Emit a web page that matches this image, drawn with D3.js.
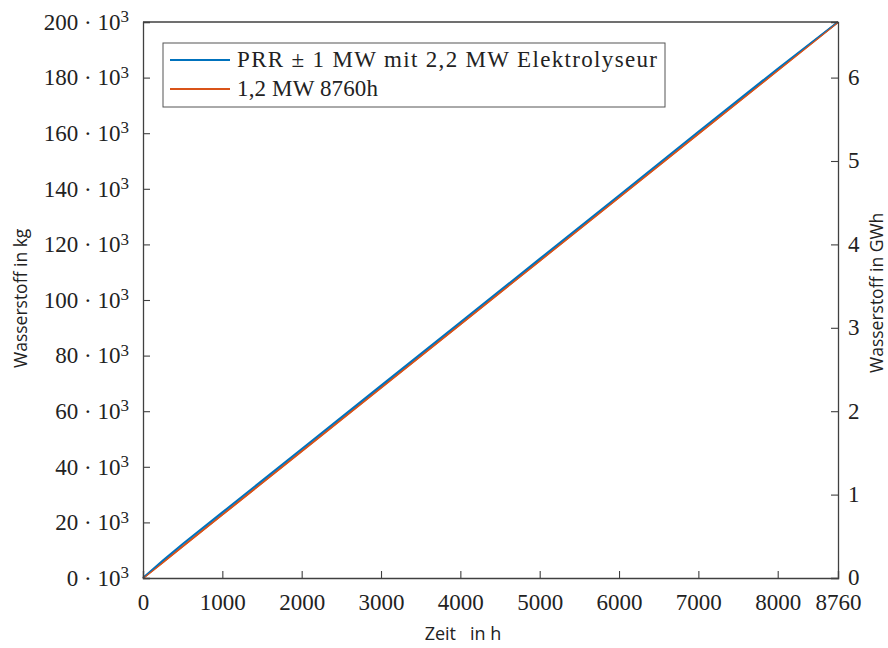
<!DOCTYPE html>
<html><head><meta charset="utf-8">
<script src="https://cdn.jsdelivr.net/npm/d3@7"></script>
<style>body{margin:0;background:#fff}</style>
</head><body>
<svg id="c" width="888" height="648"></svg>
<script>
const hours = [0,250,500,1000,2000,3000,4000,5000,6000,7000,8000,8760];
const seriesPRR = [0,6300,12200,23600,46400,69200,92000,114800,137600,160500,183200,200000];
const series12 = [0,5708,11416,22831,45662,68493,91324,114155,136986,159817,182648,200000];
const seriesNames = ["PRR \u00b1 1 MW mit 2,2 MW Elektrolyseur","1,2 MW 8760h"];
const xTicks = [0,1000,2000,3000,4000,5000,6000,7000,8000,8760];
const yTicks = [0,20,40,60,80,100,120,140,160,180,200];
const y2Ticks = [0,1,2,3,4,5,6];
const kWhPerKg = 33.333;

const svg = d3.select("#c");
const L=143,R=838,T=22,B=578;
const x = d3.scaleLinear().domain([0,8760]).range([L,R]);
const y = d3.scaleLinear().domain([0,200000]).range([B,T]);
const y2 = d3.scaleLinear().domain([0,200000*kWhPerKg/1e6]).range([B,T]);
const axisColor="#404040";
const serif="'Liberation Serif','DejaVu Serif',serif";
const sans="'Open Sans','Noto Sans',sans-serif";

// lines
const line = d3.line().x((d,i)=>x(hours[i])).y(d=>y(d));
svg.append("path").datum(series12).attr("d",line).attr("fill","none").attr("stroke","#D95319").attr("stroke-width",2);
svg.append("path").datum(seriesPRR).attr("d",line).attr("fill","none").attr("stroke","#0072BD").attr("stroke-width",2);
svg.append("path").datum(series12).attr("d",line).attr("fill","none").attr("stroke","#D95319").attr("stroke-width",1.2).attr("transform","translate(0,0.6)");

// axes
const gx = svg.append("g").attr("transform",`translate(0,${B})`)
  .call(d3.axisBottom(x).tickValues(xTicks).tickSize(-7).tickPadding(15).tickFormat(d3.format("d")));
const gy = svg.append("g").attr("transform",`translate(${L},0)`)
  .call(d3.axisLeft(y).tickValues(yTicks.map(v=>v*1000)).tickSize(-7).tickPadding(14).tickFormat(""));
const gy2 = svg.append("g").attr("transform",`translate(${R},0)`)
  .call(d3.axisRight(y2).tickValues(y2Ticks).tickSize(-7).tickPadding(10).tickFormat(d3.format("d")));
[gx,gy,gy2].forEach(g=>{
  g.select(".domain").attr("stroke",axisColor).attr("stroke-width",1.3);
  g.selectAll(".tick line").attr("stroke",axisColor).attr("stroke-width",1.1);
  g.selectAll("text").attr("fill","#222").style("font-family",serif).style("font-size","23px");
});
gx.selectAll(".tick text").attr("dy","0.75em");
gy2.selectAll(".tick text").attr("dy","0.3em");
// left tick labels with superscript
gy.selectAll(".tick").each(function(d){
  const t = d3.select(this).append("text").attr("x",-14).attr("dy","0.32em").attr("text-anchor","end")
    .attr("fill","#222").style("font-family",serif).style("font-size","23px");
  t.append("tspan").text((d/1000)+" \u00b7 10");
  t.append("tspan").attr("dy","-0.45em").style("font-size","17px").text("3");
});
// top border
svg.append("line").attr("x1",L).attr("x2",R).attr("y1",T).attr("y2",T).attr("stroke",axisColor).attr("stroke-width",1.3);

// axis labels
svg.append("text").attr("transform",`translate(27,368) rotate(-90)`).attr("text-anchor","start")
  .style("font-family",sans).style("font-size","17.5px").attr("fill","#222").text("Wasserstoff in kg");
svg.append("text").attr("transform",`translate(883,373) rotate(-90)`).attr("text-anchor","start")
  .style("font-family",sans).style("font-size","17.5px").attr("fill","#222").text("Wasserstoff in GWh");
svg.append("text").attr("x",463).attr("y",640).attr("text-anchor","middle")
  .style("font-family",sans).style("font-size","18px").attr("fill","#222").attr("xml:space","preserve").text("Zeit   in h");

// legend
const lg = svg.append("g");
lg.append("rect").attr("x",163).attr("y",43).attr("width",502).attr("height",64).attr("fill","#fff").attr("stroke","#555").attr("stroke-width",1);
const cols=["#0072BD","#D95319"];
const legLen=[420,141];
seriesNames.forEach((n,i)=>{
  const yy = 60+i*29;
  lg.append("line").attr("x1",170).attr("x2",230).attr("y1",yy).attr("y2",yy).attr("stroke",cols[i]).attr("stroke-width",2);
  lg.append("text").attr("x",237).attr("y",yy).attr("dy","0.32em").style("font-family",serif).style("font-size","23px")
    .attr("textLength",legLen[i]).attr("lengthAdjust","spacing").attr("fill","#222").text(n);
});
</script>
</body></html>
